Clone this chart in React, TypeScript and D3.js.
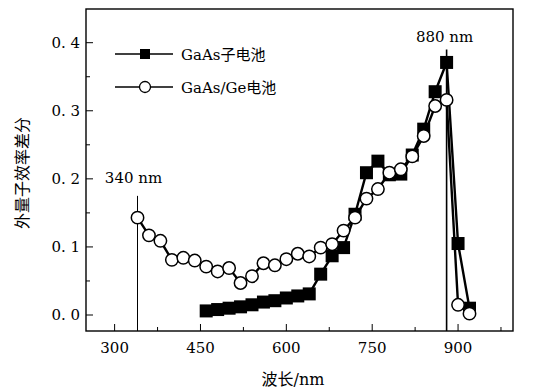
import React from "react";
import { scaleLinear, line } from "d3";

// wavelengths (nm)
const geWave = [340, 360, 380, 400, 420, 440, 460, 480, 500, 520, 540, 560, 580, 600, 620, 640, 660, 680, 700, 720, 740, 760, 780, 800, 820, 840, 860, 880, 900, 920];
const geValues = [0.143, 0.117, 0.109, 0.081, 0.084, 0.08, 0.071, 0.064, 0.069, 0.047, 0.057, 0.076, 0.073, 0.082, 0.09, 0.086, 0.099, 0.104, 0.124, 0.143, 0.171, 0.185, 0.209, 0.214, 0.233, 0.263, 0.307, 0.316, 0.015, 0.002];

const subWave = [460, 480, 500, 520, 540, 560, 580, 600, 620, 640, 660, 680, 700, 720, 740, 760, 780, 800, 820, 840, 860, 880, 900, 920];
const subValues = [0.006, 0.008, 0.01, 0.012, 0.015, 0.019, 0.021, 0.025, 0.028, 0.031, 0.06, 0.087, 0.099, 0.148, 0.209, 0.226, 0.206, 0.207, 0.235, 0.273, 0.328, 0.371, 0.105, 0.01];

const xTicks = [300, 450, 600, 750, 900];
const xMinor = [375, 525, 675, 825, 975];
const yTicks = [0, 0.1, 0.2, 0.3, 0.4];
const yTickLabels = ["0. 0", "0. 1", "0. 2", "0. 3", "0. 4"];
const yMinor = [0.05, 0.15, 0.25, 0.35];

const marks = [340, 880]; // marked wavelengths
const markTops = [0.175, 0.39];

const legendLabels = ["GaAs子电池", "GaAs/Ge电池"];

const W = 536;
const H = 391;
const plot = { left: 86, right: 513, top: 9, bottom: 331 };
const font = "DejaVu Serif, Liberation Serif, Noto Sans CJK SC, serif";

export default function App() {
  const x = scaleLinear().domain([250, 996]).range([plot.left, plot.right]);
  const y = scaleLinear().domain([-0.0235, 0.4495]).range([plot.bottom, plot.top]);

  const mk = (xs: number[], ys: number[]) =>
    line<number>()
      .x((_, i) => x(xs[i]))
      .y((d) => y(d))(ys) || "";

  const sq = 13;
  const r = 6.2;

  return (
    <svg width={W} height={H} style={{ position: "fixed", left: 0, top: 0, background: "#fff", fontFamily: font }}>
      <rect x={0} y={0} width={W} height={H} fill="#fff" />
      {/* marker lines */}
      {marks.map((m, i) => (
        <line key={m} x1={x(m)} x2={x(m)} y1={plot.bottom} y2={y(markTops[i])} stroke="#000" strokeWidth={i === 1 ? 1.6 : 1} />
      ))}
      <text x={x(340) - 4} y={183} fontSize={15} textAnchor="middle">340 nm</text>
      <text x={x(880) - 2} y={42} fontSize={15} textAnchor="middle">880 nm</text>

      {/* GaAs sub cell */}
      <path d={mk(subWave, subValues)} fill="none" stroke="#000" strokeWidth={2.4} />
      {subWave.map((w, i) => (
        <rect key={w} x={x(w) - sq / 2} y={y(subValues[i]) - sq / 2} width={sq} height={sq} fill="#000" />
      ))}

      {/* GaAs/Ge cell */}
      <path d={mk(geWave, geValues)} fill="none" stroke="#000" strokeWidth={2.4} />
      {geWave.map((w, i) => (
        <circle key={w} cx={x(w)} cy={y(geValues[i])} r={r} fill="#fff" stroke="#000" strokeWidth={1.5} />
      ))}

      {/* frame */}
      <rect x={plot.left} y={plot.top} width={plot.right - plot.left} height={plot.bottom - plot.top} fill="none" stroke="#000" strokeWidth={1.4} />

      {/* x ticks */}
      {xTicks.map((t) => (
        <g key={t}>
          <line x1={x(t)} x2={x(t)} y1={plot.bottom} y2={plot.bottom - 7} stroke="#000" strokeWidth={1} />
          <text x={x(t)} y={353} fontSize={15} textAnchor="middle">{t}</text>
        </g>
      ))}
      {xMinor.map((t) => (
        <line key={t} x1={x(t)} x2={x(t)} y1={plot.bottom} y2={plot.bottom - 4} stroke="#000" strokeWidth={1} />
      ))}

      {/* y ticks */}
      {yTicks.map((t, i) => (
        <g key={t}>
          <line x1={plot.left} x2={plot.left + 7} y1={y(t)} y2={y(t)} stroke="#000" strokeWidth={1} />
          <text x={80} y={y(t) + 5} fontSize={15} textAnchor="end">{yTickLabels[i]}</text>
        </g>
      ))}
      {yMinor.map((t) => (
        <line key={t} x1={plot.left} x2={plot.left + 4} y1={y(t)} y2={y(t)} stroke="#000" strokeWidth={1} />
      ))}

      {/* legend */}
      <g>
        <line x1={115} x2={173} y1={54} y2={54} stroke="#000" strokeWidth={1.6} />
        <rect x={145 - 5} y={54 - 5} width={10} height={10} fill="#000" />
        <text x={181} y={60} fontSize={15}>{legendLabels[0]}</text>
        <line x1={115} x2={173} y1={87} y2={87} stroke="#000" strokeWidth={1.6} />
        <circle cx={145} cy={87} r={5.5} fill="#fff" stroke="#000" strokeWidth={1.3} />
        <text x={181} y={93} fontSize={15}>{legendLabels[1]}</text>
      </g>

      {/* axis titles */}
      <text x={293} y={385} fontSize={16} textAnchor="middle">波长/nm</text>
      <text transform={`translate(28, 173) rotate(-90)`} fontSize={16} textAnchor="middle">外量子效率差分</text>
    </svg>
  );
}
